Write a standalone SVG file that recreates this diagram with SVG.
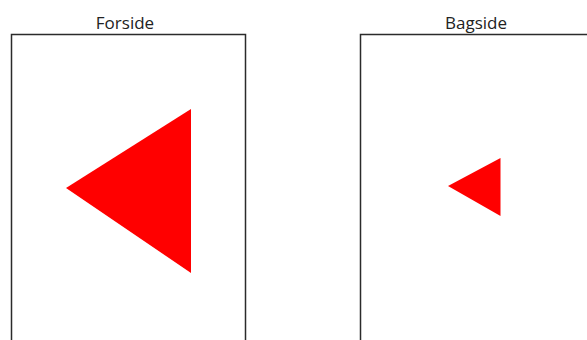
<svg xmlns="http://www.w3.org/2000/svg" width="587" height="340" viewBox="0 0 587 340">
<style>
.page{fill:#fff;stroke:#2b2b2b;stroke-width:1.5}
.lbl{font-family:"Open Sans","Liberation Sans",sans-serif;font-size:17px;fill:#222;text-anchor:middle}
.tri{fill:#ff0000}
</style>
<rect width="587" height="340" fill="#fff"/>
<g id="forside">
<rect class="page" x="11.5" y="34.5" width="234" height="310"/>
<text class="lbl" x="125" y="29">Forside</text>
<polygon class="tri" points="66,188 191,109 191,273"/>
</g>
<g id="bagside">
<rect class="page" x="360.5" y="34.5" width="234" height="310"/>
<text class="lbl" x="476" y="29">Bagside</text>
<polygon class="tri" points="448,186 500.5,158 500.5,216"/>
</g>
<g id="connectors"/>
</svg>
